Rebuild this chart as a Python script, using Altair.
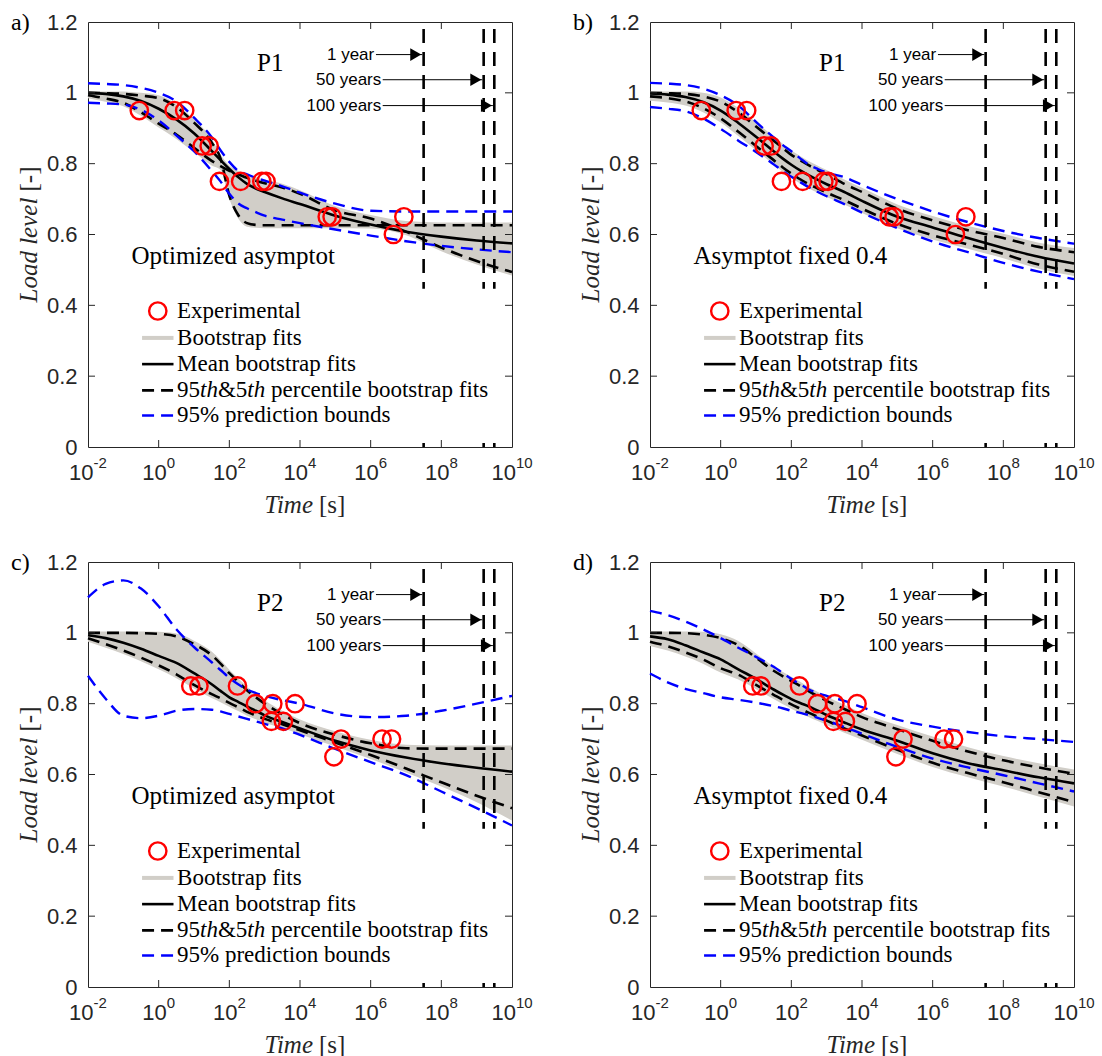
import altair as alt
import pandas as pd

# ---------------- data ----------------
# common log10(time [s]) grid for the fitted curves
LOG_T = [-2, -1.5, -1, -0.5, 0, 0.5, 1, 1.5, 1.75, 2, 2.25, 2.5, 2.75, 3, 3.5, 4, 5, 6, 7, 8, 9, 10]

# panel a) P1, optimized asymptote
A_MEAN = [1.0, 0.997, 0.99, 0.977, 0.955, 0.925, 0.886, 0.836, 0.81, 0.785, 0.762, 0.743, 0.73, 0.72, 0.702, 0.686, 0.653, 0.628, 0.608, 0.594, 0.583, 0.575]
A_PC1 = [1.0, 0.999, 0.997, 0.992, 0.985, 0.96, 0.916, 0.86, 0.815, 0.71, 0.655, 0.632, 0.627, 0.626, 0.626, 0.626, 0.626, 0.626, 0.626, 0.626, 0.626, 0.626]
A_PC2 = [0.993, 0.984, 0.972, 0.945, 0.913, 0.882, 0.845, 0.808, 0.793, 0.78, 0.77, 0.76, 0.752, 0.745, 0.733, 0.715, 0.668, 0.645, 0.608, 0.563, 0.525, 0.494]
A_PRU = [1.027, 1.025, 1.022, 1.014, 1.0, 0.976, 0.93, 0.875, 0.838, 0.805, 0.78, 0.77, 0.76, 0.752, 0.736, 0.718, 0.687, 0.667, 0.665, 0.665, 0.665, 0.665]
A_PRL = [0.972, 0.97, 0.967, 0.952, 0.922, 0.88, 0.835, 0.78, 0.75, 0.715, 0.688, 0.674, 0.663, 0.653, 0.642, 0.632, 0.614, 0.597, 0.581, 0.568, 0.558, 0.55]
A_BHI = [1.004, 1.004, 1.004, 1.0, 0.993, 0.968, 0.925, 0.87, 0.826, 0.795, 0.78, 0.77, 0.762, 0.755, 0.743, 0.725, 0.68, 0.655, 0.638, 0.634, 0.634, 0.634]
A_BLO = [0.985, 0.975, 0.962, 0.935, 0.902, 0.87, 0.833, 0.795, 0.783, 0.70, 0.645, 0.622, 0.619, 0.618, 0.618, 0.618, 0.618, 0.617, 0.598, 0.553, 0.515, 0.484]

# panel b) P1, asymptote fixed 0.4
B_MEAN = [0.998, 0.995, 0.988, 0.974, 0.95, 0.915, 0.876, 0.835, 0.815, 0.797, 0.781, 0.767, 0.754, 0.742, 0.72, 0.695, 0.65, 0.62, 0.59, 0.562, 0.537, 0.518]
B_PC1 = [1.0, 0.999, 0.997, 0.99, 0.975, 0.945, 0.905, 0.865, 0.845, 0.825, 0.81, 0.795, 0.782, 0.77, 0.743, 0.72, 0.673, 0.64, 0.612, 0.59, 0.565, 0.55]
B_PC2 = [0.99, 0.985, 0.976, 0.957, 0.928, 0.89, 0.85, 0.81, 0.79, 0.772, 0.756, 0.742, 0.73, 0.718, 0.697, 0.673, 0.63, 0.598, 0.572, 0.545, 0.515, 0.495]
B_PRU = [1.028, 1.026, 1.022, 1.012, 0.993, 0.964, 0.918, 0.874, 0.853, 0.835, 0.815, 0.797, 0.785, 0.775, 0.762, 0.74, 0.7, 0.665, 0.635, 0.61, 0.59, 0.574]
B_PRL = [0.96, 0.955, 0.948, 0.928, 0.898, 0.865, 0.833, 0.798, 0.78, 0.763, 0.748, 0.733, 0.72, 0.708, 0.686, 0.662, 0.618, 0.58, 0.55, 0.52, 0.495, 0.474]
B_BHI = [1.004, 1.004, 1.004, 1.0, 0.987, 0.957, 0.917, 0.877, 0.857, 0.837, 0.822, 0.807, 0.794, 0.782, 0.755, 0.732, 0.685, 0.652, 0.624, 0.602, 0.577, 0.562]
B_BLO = [0.978, 0.973, 0.964, 0.945, 0.916, 0.878, 0.838, 0.798, 0.778, 0.76, 0.744, 0.73, 0.718, 0.706, 0.685, 0.661, 0.618, 0.586, 0.56, 0.533, 0.503, 0.483]

# panel c) P2, optimized asymptote
C_MEAN = [0.993, 0.985, 0.972, 0.955, 0.935, 0.915, 0.886, 0.855, 0.836, 0.818, 0.805, 0.792, 0.78, 0.767, 0.748, 0.73, 0.695, 0.668, 0.648, 0.632, 0.619, 0.608]
C_PC1 = [1.0, 1.0, 1.0, 0.999, 0.997, 0.99, 0.968, 0.937, 0.913, 0.886, 0.862, 0.838, 0.818, 0.8, 0.77, 0.745, 0.712, 0.688, 0.674, 0.673, 0.673, 0.673]
C_PC2 = [0.985, 0.968, 0.95, 0.93, 0.908, 0.883, 0.853, 0.827, 0.815, 0.802, 0.79, 0.777, 0.767, 0.757, 0.742, 0.725, 0.69, 0.655, 0.617, 0.578, 0.54, 0.505]
C_PRU = [1.10, 1.138, 1.148, 1.125, 1.075, 1.01, 0.96, 0.917, 0.895, 0.873, 0.855, 0.84, 0.83, 0.822, 0.81, 0.80, 0.772, 0.762, 0.766, 0.78, 0.80, 0.822]
C_PRL = [0.879, 0.814, 0.766, 0.759, 0.766, 0.78, 0.785, 0.783, 0.778, 0.771, 0.764, 0.757, 0.75, 0.743, 0.73, 0.712, 0.672, 0.635, 0.598, 0.552, 0.505, 0.456]
C_BHI = [1.004, 1.004, 1.004, 1.004, 1.003, 0.998, 0.978, 0.947, 0.923, 0.896, 0.872, 0.848, 0.828, 0.81, 0.78, 0.755, 0.722, 0.698, 0.684, 0.682, 0.682, 0.682]
C_BLO = [0.975, 0.958, 0.94, 0.92, 0.897, 0.872, 0.843, 0.816, 0.804, 0.791, 0.779, 0.766, 0.756, 0.746, 0.731, 0.714, 0.679, 0.644, 0.606, 0.566, 0.522, 0.47]

# panel d) P2, asymptote fixed 0.4
D_MEAN = [0.99, 0.982, 0.965, 0.945, 0.925, 0.897, 0.87, 0.84, 0.826, 0.813, 0.802, 0.792, 0.78, 0.768, 0.747, 0.727, 0.695, 0.66, 0.632, 0.612, 0.592, 0.575]
D_PC1 = [1.0, 1.0, 0.999, 0.995, 0.985, 0.965, 0.93, 0.893, 0.878, 0.864, 0.85, 0.835, 0.821, 0.808, 0.785, 0.762, 0.728, 0.695, 0.665, 0.64, 0.62, 0.602]
D_PC2 = [0.975, 0.962, 0.945, 0.925, 0.9, 0.882, 0.853, 0.825, 0.811, 0.798, 0.786, 0.774, 0.763, 0.752, 0.73, 0.71, 0.67, 0.633, 0.604, 0.578, 0.55, 0.522]
D_PRU = [1.062, 1.05, 1.032, 1.01, 0.985, 0.958, 0.932, 0.904, 0.887, 0.87, 0.855, 0.84, 0.83, 0.822, 0.808, 0.79, 0.755, 0.735, 0.72, 0.708, 0.70, 0.692]
D_PRL = [0.885, 0.86, 0.842, 0.83, 0.818, 0.811, 0.803, 0.793, 0.787, 0.78, 0.774, 0.768, 0.76, 0.752, 0.734, 0.715, 0.678, 0.645, 0.62, 0.598, 0.575, 0.552]
D_BHI = [1.004, 1.004, 1.004, 1.003, 0.996, 0.977, 0.942, 0.905, 0.89, 0.876, 0.862, 0.847, 0.833, 0.82, 0.797, 0.774, 0.74, 0.707, 0.677, 0.652, 0.632, 0.614]
D_BLO = [0.963, 0.95, 0.933, 0.913, 0.888, 0.868, 0.841, 0.813, 0.799, 0.786, 0.774, 0.762, 0.751, 0.74, 0.718, 0.698, 0.658, 0.621, 0.592, 0.566, 0.538, 0.51]

# experimental points
P1_T = [0.283, 2.75, 5.45, 17.0, 26.9, 52.5, 209, 832, 1096, 5.9e4, 8.1e4, 4.4e6, 8.7e6]
P1_Y = [0.95, 0.95, 0.95, 0.85, 0.85, 0.75, 0.75, 0.75, 0.75, 0.65, 0.65, 0.60, 0.65]
P2_T = [8.1, 13.8, 170, 550, 1700, 7240, 1550, 3390, 9.1e4, 1.45e5, 2.1e6, 3.9e6]
P2_Y = [0.85, 0.85, 0.85, 0.80, 0.80, 0.80, 0.75, 0.75, 0.65, 0.70, 0.70, 0.70]

# service-life markers [s]
YEAR_T = [3.156e7, 1.5779e9, 3.1558e9]
YEAR_LABELS = ["1 year", "50 years", "100 years"]

LEGEND_LABELS = ["Experimental", "Bootstrap fits", "Mean bootstrap fits",
                 "95th&5th percentile bootstrap fits", "95% prediction bounds"]

X_EXPONENTS = [-2, 0, 2, 4, 6, 8, 10]
X_TICKS = [10.0 ** e for e in X_EXPONENTS]
Y_TICKS = [0, 0.2, 0.4, 0.6, 0.8, 1.0, 1.2]

# ---------------- layout / style ----------------
W, H = 424, 425
PX_PER_DEC = W / 12.0
GRAY = "#d1cec8"
BLUE = "#0000ff"
RED = "#ff0000"
INK = "#262626"
SERIF = "Liberation Serif"
SANS = "Liberation Sans"
DASH = [12, 7]
VDASH = [14, 9]
XL_BASE, XL_EXP = 22, 15   # font sizes of "10" and of its exponent
YL_SIZE = 22

# annotation placement (log10 t, load level)
ARROW_TXT_LT = [6.1, 6.3, 6.3]
ARROW_Y = [1.108, 1.037, 0.964]
ARROW_FROM_LT = [6.15, 6.34, 6.34]
ARROW_TIP_LT = [7.46, 9.16, 9.46]
LEG_ROWS = [0.384, 0.308, 0.234, 0.160, 0.089]
LEG_SYM_LT = (-0.47, 0.42)
LEG_TXT_LT = 0.52

X_SCALE = alt.Scale(type="log", domain=[1e-2, 1e10], nice=False)
Y_SCALE = alt.Scale(domain=[0, 1.2], nice=False, zero=False)

X_AXIS = alt.Axis(values=X_TICKS, labels=False, title=None, grid=False, ticks=False, domain=False)
Y_AXIS = alt.Axis(values=Y_TICKS, format="~g", title=None, grid=False, ticks=False,
                  domain=False, labelFont=SANS, labelFontSize=YL_SIZE, labelColor=INK,
                  labelPadding=11, labelOverlap=False)


def lt2t(lt):
    return 10 ** lt


def X(f):
    return alt.X(f + ":Q", scale=X_SCALE, axis=X_AXIS)


def Y(f):
    return alt.Y(f + ":Q", scale=Y_SCALE, axis=Y_AXIS)


# x tick labels "10" + raised exponent, centred as a whole on each tick
_base_t, _exp_t, _exp_s = [], [], []
for e in X_EXPONENTS:
    s = str(e)
    ew = sum(0.333 if c == "-" else 0.556 for c in s) * XL_EXP
    bw = 2 * 0.556 * XL_BASE
    w = bw + ew
    _base_t.append(lt2t(e + (-w / 2 + bw / 2) / PX_PER_DEC))
    _exp_t.append(lt2t(e + (-w / 2 + bw) / PX_PER_DEC))
    _exp_s.append(s)
XLAB_BASE = pd.DataFrame({"t": _base_t, "s": ["10"] * len(_base_t)})
XLAB_EXP = pd.DataFrame({"t": _exp_t, "s": _exp_s})


def panel(letter, tag, note, pts_t, pts_y, mean, pc1, pc2, pru, prl, bhi, blo):
    curves = pd.DataFrame({"t": [lt2t(e) for e in LOG_T], "mean": mean, "pc1": pc1, "pc2": pc2,
                           "pru": pru, "prl": prl, "bhi": bhi, "blo": blo})
    base = alt.Chart(curves)

    band = base.mark_area(color=GRAY, interpolate="monotone", opacity=1).encode(
        x=X("t"), y=Y("bhi"), y2="blo:Q")

    def line(f, color, width, dash=None):
        kw = dict(color=color, strokeWidth=width, interpolate="monotone")
        if dash:
            kw["strokeDash"] = dash
        return base.mark_line(**kw).encode(x=X("t"), y=Y(f))

    layers = [band,
              line("mean", "black", 2.6),
              line("pc1", "black", 2.6, DASH), line("pc2", "black", 2.6, DASH),
              line("pru", BLUE, 2.4, DASH), line("prl", BLUE, 2.4, DASH)]

    # service-life vertical markers
    vdf = pd.DataFrame({"t": YEAR_T, "top": [1.18] * 3, "bot": [0.0] * 3})
    layers.append(alt.Chart(vdf).mark_rule(color="black", strokeWidth=2.6, strokeDash=VDASH).encode(
        x=X("t"), y=Y("top"), y2="bot:Q"))

    # legend background (white, no border)
    box = pd.DataFrame({"x1": [lt2t(-0.85)], "x2": [lt2t(9.7)], "y1": [0.447], "y2": [0.035]})
    layers.append(alt.Chart(box).mark_rect(color="white", opacity=1).encode(
        x=X("x1"), x2="x2:Q", y=Y("y1"), y2="y2:Q"))

    # legend symbols
    sym_x1, sym_x2 = lt2t(LEG_SYM_LT[0]), lt2t(LEG_SYM_LT[1])
    circ = pd.DataFrame({"t": [lt2t((LEG_SYM_LT[0] + LEG_SYM_LT[1]) / 2)], "v": [LEG_ROWS[0]]})
    layers.append(alt.Chart(circ).mark_point(shape="circle", filled=False, color=RED, size=300,
                                             strokeWidth=2.4, opacity=1).encode(x=X("t"), y=Y("v")))
    styles = [(GRAY, 4, None), ("black", 2.6, None), ("black", 2.6, DASH), (BLUE, 2.4, DASH)]
    for row, (col, wdt, dsh) in zip(LEG_ROWS[1:], styles):
        d = pd.DataFrame({"a": [sym_x1], "b": [sym_x2], "v": [row]})
        kw = dict(color=col, strokeWidth=wdt)
        if dsh:
            kw["strokeDash"] = dsh
        layers.append(alt.Chart(d).mark_rule(**kw).encode(x=X("a"), x2="b:Q", y=Y("v")))

    # legend labels (percentile label split to italicise "th")
    reg_txt, reg_off, reg_row, it_txt, it_off, it_row = [], [], [], [], [], []
    for i, lab in enumerate(LEGEND_LABELS):
        if i == 3:
            reg_txt += ["95", "&5", "percentile bootstrap fits"]
            reg_off += [0, 40.9, 94.0]
            reg_row += [LEG_ROWS[i]] * 3
            it_txt += ["th", "th"]
            it_off += [23.0, 70.3]
            it_row += [LEG_ROWS[i]] * 2
        else:
            reg_txt.append(lab)
            reg_off.append(0)
            reg_row.append(LEG_ROWS[i])
    rdf = pd.DataFrame({"t": [lt2t(LEG_TXT_LT + o / PX_PER_DEC) for o in reg_off], "v": reg_row, "s": reg_txt})
    idf = pd.DataFrame({"t": [lt2t(LEG_TXT_LT + o / PX_PER_DEC) for o in it_off], "v": it_row, "s": it_txt})
    layers.append(alt.Chart(rdf).mark_text(align="left", baseline="middle", font=SERIF, fontSize=23,
                                           color="black").encode(x=X("t"), y=Y("v"), text="s:N"))
    layers.append(alt.Chart(idf).mark_text(align="left", baseline="middle", font=SERIF, fontSize=23,
                                           fontStyle="italic", color="black").encode(
        x=X("t"), y=Y("v"), text="s:N"))

    # experimental points
    pts = pd.DataFrame({"t": pts_t, "v": pts_y})
    layers.append(alt.Chart(pts).mark_point(shape="circle", filled=False, color=RED, size=300,
                                            strokeWidth=2.4, opacity=1).encode(x=X("t"), y=Y("v")))

    # year annotations with arrows
    adf = pd.DataFrame({"tt": [lt2t(e) for e in ARROW_TXT_LT], "a": [lt2t(e) for e in ARROW_FROM_LT],
                        "b": [lt2t(e) for e in ARROW_TIP_LT],
                        "h": [lt2t(e - 6.5 / PX_PER_DEC) for e in ARROW_TIP_LT],
                        "v": ARROW_Y, "s": YEAR_LABELS})
    layers.append(alt.Chart(adf).mark_text(align="right", baseline="middle", font=SANS, fontSize=17,
                                           color="black").encode(x=X("tt"), y=Y("v"), text="s:N"))
    layers.append(alt.Chart(adf).mark_rule(color="black", strokeWidth=1).encode(
        x=X("a"), x2="b:Q", y=Y("v")))
    layers.append(alt.Chart(adf).mark_point(shape="triangle-right", filled=True, color="black",
                                            size=160, opacity=1).encode(x=X("h"), y=Y("v")))

    # panel texts
    tdf = pd.DataFrame({"t": [lt2t(3.16)], "v": [1.085], "s": [tag]})
    layers.append(alt.Chart(tdf).mark_text(align="center", baseline="middle", font=SERIF, fontSize=25,
                                           color="black").encode(x=X("t"), y=Y("v"), text="s:N"))
    ndf = pd.DataFrame({"t": [lt2t(-0.77)], "v": [0.54], "s": [note]})
    layers.append(alt.Chart(ndf).mark_text(align="left", baseline="middle", font=SERIF, fontSize=25,
                                           color="black").encode(x=X("t"), y=Y("v"), text="s:N"))

    # inward ticks on all four sides
    xt = pd.DataFrame({"t": X_TICKS[1:-1]})
    yt = pd.DataFrame({"v": Y_TICKS[1:-1]})
    tk = dict(color=INK, strokeWidth=1)
    layers.append(alt.Chart(xt).mark_rule(**tk).encode(x=X("t"), y=alt.value(H), y2=alt.value(H - 7)))
    layers.append(alt.Chart(xt).mark_rule(**tk).encode(x=X("t"), y=alt.value(0), y2=alt.value(7)))
    layers.append(alt.Chart(yt).mark_rule(**tk).encode(y=Y("v"), x=alt.value(0), x2=alt.value(7)))
    layers.append(alt.Chart(yt).mark_rule(**tk).encode(y=Y("v"), x=alt.value(W), x2=alt.value(W - 7)))

    # x tick labels (10^n with raised exponent)
    layers.append(alt.Chart(XLAB_BASE).mark_text(align="center", baseline="middle", font=SANS,
                                                 fontSize=XL_BASE, color=INK).encode(
        x=X("t"), y=alt.value(H + 26), text="s:N"))
    layers.append(alt.Chart(XLAB_EXP).mark_text(align="left", baseline="middle", font=SANS,
                                                fontSize=XL_EXP, color=INK).encode(
        x=X("t"), y=alt.value(H + 16), text="s:N"))

    # axis titles and panel letter
    one = pd.DataFrame({"s": ["x"]})
    layers.append(alt.Chart(one).mark_text(text="Time", align="right", baseline="middle", font=SERIF,
                                           fontSize=25, fontStyle="italic", color=INK).encode(
        x=alt.value(W / 2 + 13), y=alt.value(H + 58)))
    layers.append(alt.Chart(one).mark_text(text="[s]", align="left", baseline="middle", font=SERIF,
                                           fontSize=25, color=INK).encode(
        x=alt.value(W / 2 + 19), y=alt.value(H + 58)))
    layers.append(alt.Chart(one).mark_text(text="Load level", align="left", baseline="middle", angle=270,
                                           font=SERIF, fontSize=25, fontStyle="italic", color=INK).encode(
        x=alt.value(-59), y=alt.value(H / 2 + 68)))
    layers.append(alt.Chart(one).mark_text(text="[-]", align="left", baseline="middle", angle=270,
                                           font=SERIF, fontSize=25, color=INK).encode(
        x=alt.value(-59), y=alt.value(H / 2 - 43)))
    layers.append(alt.Chart(one).mark_text(text=letter, align="left", baseline="middle", font=SERIF,
                                           fontSize=24, color="black").encode(
        x=alt.value(-77), y=alt.value(1)))

    return alt.layer(*layers).properties(width=W, height=H)


pa = panel("a)", "P1", "Optimized asymptot", P1_T, P1_Y, A_MEAN, A_PC1, A_PC2, A_PRU, A_PRL, A_BHI, A_BLO)
pb = panel("b)", "P1", "Asymptot fixed 0.4", P1_T, P1_Y, B_MEAN, B_PC1, B_PC2, B_PRU, B_PRL, B_BHI, B_BLO)
pc = panel("c)", "P2", "Optimized asymptot", P2_T, P2_Y, C_MEAN, C_PC1, C_PC2, C_PRU, C_PRL, C_BHI, C_BLO)
pd_ = panel("d)", "P2", "Asymptot fixed 0.4", P2_T, P2_Y, D_MEAN, D_PC1, D_PC2, D_PRU, D_PRL, D_BHI, D_BLO)

chart = alt.concat(pa, pb, pc, pd_, columns=2, spacing={"row": 115, "column": 138}, bounds="flush") \
    .configure_view(stroke=INK, strokeWidth=1) \
    .properties(padding={"left": 10, "top": 10, "right": 0, "bottom": 0}, background="white")

chart.save("out.html", embed_options={"renderer": "svg", "actions": False})
